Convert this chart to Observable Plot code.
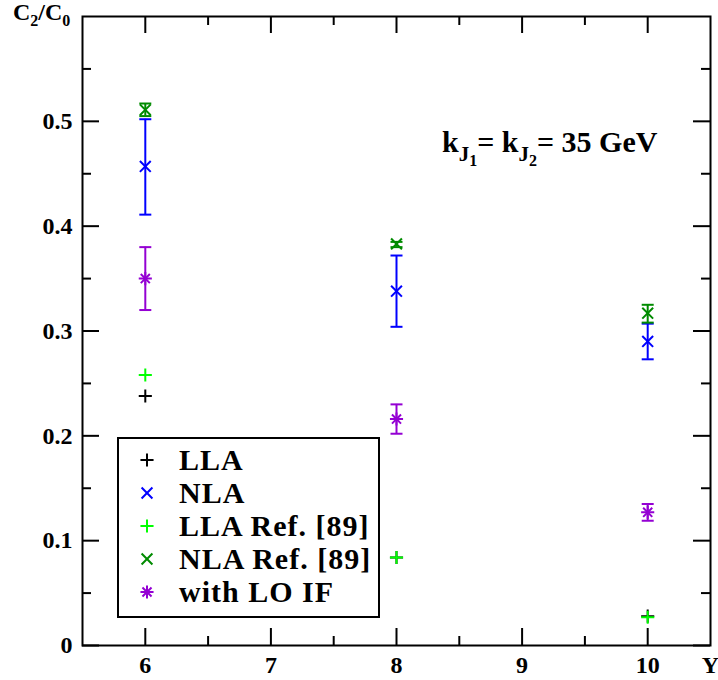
<!DOCTYPE html>
<html><head><meta charset="utf-8">
<script src="https://cdn.jsdelivr.net/npm/d3@7"></script>
<script src="https://cdn.jsdelivr.net/npm/@observablehq/plot@0.6"></script>
<style>
body{margin:0;background:#fff;}
#wrap{position:relative;width:718px;height:680px;font-family:"Liberation Serif","Times New Roman",serif;font-weight:bold;color:#000;}
.ov{position:absolute;white-space:nowrap;}
#legend{position:absolute;left:117px;top:437px;width:259px;height:173px;border:2px solid #000;background:#fff;padding-top:4px;box-sizing:content-box;}
#legend .row{height:33px;line-height:33px;font-size:30px;letter-spacing:1px;display:flex;align-items:center;}
#legend svg{width:20px;height:20px;margin-left:18px;margin-right:22px;flex:none;}
</style></head><body><div id="wrap"></div>
<script>
// data
const rapidity = [6, 8, 10];
const lla      = [0.238, 0.084, 0.028];
const nla      = [0.457, 0.338, 0.290];
const nlaLo    = [0.411, 0.304, 0.273];
const nlaHi    = [0.502, 0.372, 0.307];
const llaRef   = [0.258, 0.084, 0.027];
const nlaRef   = [0.511, 0.383, 0.317];
const nlaRefLo = [0.505, 0.380, 0.308];
const nlaRefHi = [0.517, 0.385, 0.325];
const loif     = [0.350, 0.216, 0.127];
const loifLo   = [0.320, 0.202, 0.119];
const loifHi   = [0.380, 0.230, 0.135];

const xMajor = [6, 7, 8, 9, 10];
const xMinor = [6.5, 7.5, 8.5, 9.5];
const yMajor = [0, 0.1, 0.2, 0.3, 0.4, 0.5];
const yMinor = [0.05, 0.15, 0.25, 0.35, 0.45, 0.55];

const seriesNames  = ["LLA", "NLA", "LLA Ref. [89]", "NLA Ref. [89]", "with LO IF"];
const seriesColors = ["#000000", "#0000ff", "#00ff00", "#008b00", "#9400d3"];
const seriesSymbols = [["plus"], ["times"], ["plus"], ["times"], ["plus", "times"]];
const seriesVals = [lla, nla, llaRef, nlaRef, loif];
const seriesLo = [null, nlaLo, null, nlaRefLo, loifLo];
const seriesHi = [null, nlaHi, null, nlaRefHi, loifHi];

const W = 718, H = 680;
const mL = 82, mR = 8, mT = 16, mB = 35;
const fw = W - mL - mR, fh = H - mT - mB;
const majorLen = 17, minorLen = 9;
const font = '"Liberation Serif","Times New Roman",serif';
const symR = {plus: 4.3, times: 5};
const capSymbol = {draw(ctx) { ctx.moveTo(-6, 0); ctx.lineTo(6, 0); }};

const marks = [];
// error bars and markers
seriesNames.forEach((name, i) => {
  const rows = rapidity.map((x, j) => ({x, v: seriesVals[i][j],
    lo: seriesLo[i] ? seriesLo[i][j] : null, hi: seriesHi[i] ? seriesHi[i][j] : null}));
  const c = seriesColors[i];
  if (seriesLo[i]) {
    marks.push(Plot.ruleX(rows, {x: "x", y1: "lo", y2: "hi", stroke: c, strokeWidth: 2}));
    marks.push(Plot.dot(rows, {x: "x", y: "lo", symbol: capSymbol, stroke: c, strokeWidth: 2}));
    marks.push(Plot.dot(rows, {x: "x", y: "hi", symbol: capSymbol, stroke: c, strokeWidth: 2}));
  }
  seriesSymbols[i].forEach(s => {
    marks.push(Plot.dot(rows, {x: "x", y: "v", symbol: s, r: (i === 4 && s === "times") ? 4.2 : symR[s],
      stroke: c, strokeWidth: 2, fill: "none"}));
  });
});

// inward ticks on all four sides
const tk = {stroke: "#000", strokeWidth: 2};
marks.push(
  Plot.tickX(xMajor, {x: d => d, insetTop: fh - majorLen, ...tk}),
  Plot.tickX(xMinor, {x: d => d, insetTop: fh - minorLen, ...tk}),
  Plot.tickX(xMajor, {x: d => d, insetBottom: fh - majorLen, ...tk}),
  Plot.tickX(xMinor, {x: d => d, insetBottom: fh - minorLen, ...tk}),
  Plot.tickY(yMajor, {y: d => d, insetRight: fw - majorLen, ...tk}),
  Plot.tickY(yMinor, {y: d => d, insetRight: fw - minorLen, ...tk}),
  Plot.tickY(yMajor, {y: d => d, insetLeft: fw - majorLen, ...tk}),
  Plot.tickY(yMinor, {y: d => d, insetLeft: fw - minorLen, ...tk}),
  Plot.frame({stroke: "#000", strokeWidth: 2}),
  Plot.axisX(xMajor, {tickSize: 0, tickPadding: 10, fontSize: 24, fontWeight: "bold", fontFamily: font, fill: "#000", label: null, tickFormat: d => String(d)}),
  Plot.axisY(yMajor, {tickSize: 0, tickPadding: 10, fontSize: 24, fontWeight: "bold", fontFamily: font, fill: "#000", label: null, tickFormat: d => String(d)}),
  Plot.text(["Y"], {frameAnchor: "bottom-right", lineAnchor: "top", dy: 10, text: d => d, fontSize: 24, fontWeight: "bold", fontFamily: font, fill: "#000", textAnchor: "middle"})
);

const chart = Plot.plot({
  width: W, height: H,
  marginLeft: mL, marginRight: mR, marginTop: mT, marginBottom: mB,
  x: {domain: [5.5, 10.5]},
  y: {domain: [0, 0.6]},
  style: {background: "#fff", color: "#000", fontFamily: font, overflow: "visible"},
  marks
});
const wrap = document.getElementById("wrap");
wrap.appendChild(chart);

// y-axis title
const yt = document.createElement("div");
yt.className = "ov";
yt.style.cssText = "left:13px;top:0px;font-size:24px;line-height:24px;";
yt.innerHTML = 'C<span style="font-size:16px;vertical-align:-6px">2</span>/C<span style="font-size:16px;vertical-align:-6px">0</span>';
wrap.appendChild(yt);

// annotation
const an = document.createElement("div");
an.className = "ov";
an.style.cssText = "left:442px;top:127px;font-size:30px;line-height:30px;";
const sub = n => '<span style="font-size:21px;vertical-align:-9px">J<span style="font-size:16px;vertical-align:-5px">' + n + '</span></span>';
an.innerHTML = 'k' + sub(1) + '= k' + sub(2) + '= 35 GeV';
wrap.appendChild(an);

// legend
const lg = document.createElement("div");
lg.id = "legend";
seriesNames.forEach((name, i) => {
  const row = document.createElement("div");
  row.className = "row";
  const paths = seriesSymbols[i].map(s => {
    const r = (i === 4 && s === "times") ? 4.2 : symR[s];
    const t = s === "plus" ? d3.symbolPlus : d3.symbolTimes;
    return '<path d="' + d3.symbol(t, r * r * Math.PI)() + '" fill="none" stroke="' + seriesColors[i] + '" stroke-width="2"/>';
  }).join("");
  row.innerHTML = '<svg viewBox="-10 -10 20 20">' + paths + '</svg><span>' + name + '</span>';
  lg.appendChild(row);
});
wrap.appendChild(lg);
</script></body></html>
